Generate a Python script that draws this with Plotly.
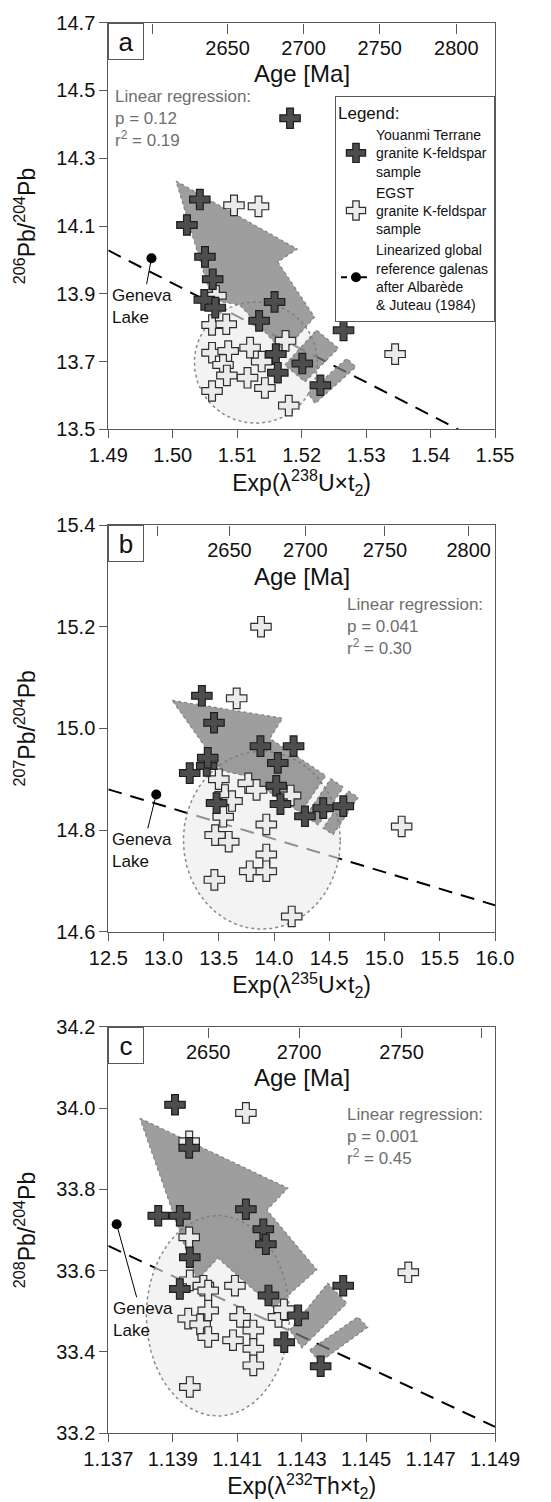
import numpy as np
import plotly.graph_objects as go

FONT = "Liberation Sans, Arial, sans-serif"
W, H = 551, 1502

# ---------------- data ----------------
# Panel a : 206Pb/204Pb vs Exp(lambda238U x t2)
a_youanmi_x = [1.5182, 1.5042, 1.5022, 1.5050, 1.5062, 1.5049, 1.5066, 1.5158, 1.5134,
               1.5160, 1.5163, 1.5201, 1.5229, 1.5265]
a_youanmi_y = [14.418, 14.178, 14.103, 14.009, 13.943, 13.882, 13.859, 13.876, 13.820,
               13.722, 13.667, 13.694, 13.630, 13.792]
a_egst_x = [1.5095, 1.5133, 1.5067, 1.5061, 1.5083, 1.5061, 1.5086, 1.5120, 1.5175,
            1.5078, 1.5138, 1.5084, 1.5116, 1.5143, 1.5061, 1.5180, 1.5345]
a_egst_y = [14.161, 14.158, 13.894, 13.808, 13.810, 13.726, 13.731, 13.741, 13.761,
            13.690, 13.700, 13.659, 13.652, 13.622, 13.613, 13.570, 13.722]
a_galena_x = [1.49, 1.5443]
a_galena_y = [14.028, 13.50]
a_geneva = (1.4967, 14.005)
a_ellipse = dict(cx=1.5129, cy=13.697, rx=0.00955, ry=0.179)
a_arrow_x = [1.5005, 1.5193, 1.5163, 1.5220, 1.5172, 1.5104, 1.5061]
a_arrow_y = [14.233, 14.032, 13.994, 13.831, 13.728, 13.867, 13.881]
a_seg1_x = [1.5174, 1.5223, 1.5257, 1.5205]
a_seg1_y = [13.690, 13.793, 13.739, 13.640]
a_seg2_x = [1.5210, 1.5270, 1.5284, 1.5221]
a_seg2_y = [13.606, 13.709, 13.684, 13.576]
a_xticks = [1.49, 1.50, 1.51, 1.52, 1.53, 1.54, 1.55]
a_yticks = [13.5, 13.7, 13.9, 14.1, 14.3, 14.5, 14.7]
a_age_pos = [1.4968, 1.5085, 1.5203, 1.5321, 1.5440]
a_age_txt = ["", "2650", "2700", "2750", "2800"]

# Panel b : 207Pb/204Pb vs Exp(lambda235U x t2)
b_youanmi_x = [13.347, 13.457, 13.237, 13.391, 13.40, 13.48, 13.877, 14.177, 14.034,
               14.020, 14.058, 14.280, 14.445, 14.627]
b_youanmi_y = [15.064, 15.011, 14.912, 14.926, 14.942, 14.853, 14.965, 14.965, 14.932,
               14.887, 14.851, 14.827, 14.843, 14.847]
b_egst_x = [13.882, 13.662, 13.500, 13.556, 13.620, 13.767, 13.842, 14.150, 13.540,
            13.467, 13.590, 13.930, 13.930, 13.780, 13.930, 13.460, 14.160, 15.155]
b_egst_y = [15.200, 15.059, 14.900, 14.869, 14.857, 14.892, 14.879, 14.868, 14.826,
            14.790, 14.777, 14.811, 14.752, 14.719, 14.719, 14.702, 14.630, 14.807]
b_galena_x = [12.5, 16.0]
b_galena_y = [14.880, 14.652]
b_geneva = (12.934, 14.870)
b_ellipse = dict(cx=13.89, cy=14.78, rx=0.71, ry=0.175)
b_arrow_x = [13.079, 14.077, 13.962, 14.468, 14.240, 13.734, 13.528]
b_arrow_y = [15.055, 15.020, 14.980, 14.907, 14.834, 14.907, 14.917]
b_seg1_x = [14.514, 14.627, 14.399, 14.286]
b_seg1_y = [14.901, 14.884, 14.810, 14.827]
b_seg2_x = [14.672, 14.762, 14.534, 14.444]
b_seg2_y = [14.877, 14.864, 14.791, 14.804]
b_xticks = [12.5, 13.0, 13.5, 14.0, 14.5, 15.0, 15.5, 16.0]
b_yticks = [14.6, 14.8, 15.0, 15.2, 15.4]
b_age_pos = [12.943, 13.597, 14.283, 15.004, 15.762]
b_age_txt = ["", "2650", "2700", "2750", "2800"]

# Panel c : 208Pb/204Pb vs Exp(lambda232Th x t2)
c_youanmi_x = [1.13907, 1.13951, 1.13855, 1.13922, 1.13953, 1.13922, 1.14127, 1.14181,
               1.14189, 1.14197, 1.14289, 1.14246, 1.14429, 1.14359]
c_youanmi_y = [34.008, 33.902, 33.735, 33.735, 33.633, 33.555, 33.751, 33.702,
               33.665, 33.539, 33.490, 33.424, 33.563, 33.365]
c_egst_x = [1.14127, 1.13951, 1.13951, 1.14631, 1.14093, 1.13953, 1.13995, 1.14010,
            1.13948, 1.14010, 1.13985, 1.14109, 1.14010, 1.14087, 1.14150, 1.14150,
            1.14150, 1.14228, 1.13953, 1.14245]
c_egst_y = [33.988, 33.918, 33.682, 33.596, 33.563, 33.576, 33.563, 33.551,
            33.482, 33.502, 33.468, 33.486, 33.437, 33.429, 33.453, 33.408,
            33.367, 33.486, 33.314, 33.505]
c_galena_x = [1.137, 1.149]
c_galena_y = [33.661, 33.216]
c_geneva = (1.13726, 33.714)
c_ellipse = dict(cx=1.1404, cy=33.489, rx=0.00222, ry=0.2465)
c_arrow_x = [1.13798, 1.14257, 1.14192, 1.14347, 1.14214, 1.14040, 1.13975]
c_arrow_y = [33.975, 33.803, 33.749, 33.602, 33.508, 33.631, 33.575]
c_seg1_x = [1.14263, 1.14381, 1.14440, 1.14301]
c_seg1_y = [33.454, 33.569, 33.520, 33.410]
c_seg2_x = [1.14325, 1.14474, 1.14505, 1.14356]
c_seg2_y = [33.405, 33.486, 33.461, 33.375]
c_xticks = [1.137, 1.139, 1.141, 1.143, 1.145, 1.147, 1.149]
c_yticks = [33.2, 33.4, 33.6, 33.8, 34.0, 34.2]
c_age_pos = [1.13728, 1.14010, 1.14292, 1.14610, 1.14858]
c_age_txt = ["", "2650", "2700", "2750", ""]

regression_text = ["Linear regression:<br>p = 0.12<br>r<sup>2</sup> = 0.19",
                   "Linear regression:<br>p = 0.041<br>r<sup>2</sup> = 0.30",
                   "Linear regression:<br>p = 0.001<br>r<sup>2</sup> = 0.45"]
panel_letters = ["a", "b", "c"]
x_titles = ["Exp(λ<sup>238</sup>U×t<sub>2</sub>)", "Exp(λ<sup>235</sup>U×t<sub>2</sub>)",
            "Exp(λ<sup>232</sup>Th×t<sub>2</sub>)"]
y_titles = ["<sup>206</sup>Pb/<sup>204</sup>Pb", "<sup>207</sup>Pb/<sup>204</sup>Pb",
            "<sup>208</sup>Pb/<sup>204</sup>Pb"]
legend_names = ["Youanmi Terrane<br>granite K-feldspar<br>sample",
                "EGST<br>granite K-feldspar<br>sample",
                "Linearized global<br>reference galenas<br>after Albarède<br>& Juteau (1984)"]

# ---------------- layout geometry (pixels) ----------------
X0, X1 = 108.3, 495.0
panel_px = [(22.7, 429.3), (525.0, 931.7), (1026.7, 1433.3)]
reg_pos = [(113, 118.5), (345, 626.7), (345, 1136.5)]
geneva_off = [(-9, 48), (-14, 56), (26, 95)]

AXC = "#595959"
DARK_FILL, DARK_LINE = "#4d4d4d", "#1e1e1e"
LIGHT_FILL, LIGHT_LINE = "#ebebeb", "#2e2e2e"
ARROW_FILL = "rgba(120,120,120,0.72)"
ARROW_LINE = "#808080"
ELL_FILL = "rgba(236,236,236,0.62)"

panels = [
    dict(yx=a_youanmi_x, yy=a_youanmi_y, ex=a_egst_x, ey=a_egst_y, gx=a_galena_x, gy=a_galena_y,
         gen=a_geneva, ell=a_ellipse, arrows=[(a_arrow_x, a_arrow_y), (a_seg1_x, a_seg1_y), (a_seg2_x, a_seg2_y)],
         xt=a_xticks, yt=a_yticks, ap=a_age_pos, at=a_age_txt, xf="{:.2f}", yf="{:.1f}"),
    dict(yx=b_youanmi_x, yy=b_youanmi_y, ex=b_egst_x, ey=b_egst_y, gx=b_galena_x, gy=b_galena_y,
         gen=b_geneva, ell=b_ellipse, arrows=[(b_arrow_x, b_arrow_y), (b_seg1_x, b_seg1_y), (b_seg2_x, b_seg2_y)],
         xt=b_xticks, yt=b_yticks, ap=b_age_pos, at=b_age_txt, xf="{:.1f}", yf="{:.1f}"),
    dict(yx=c_youanmi_x, yy=c_youanmi_y, ex=c_egst_x, ey=c_egst_y, gx=c_galena_x, gy=c_galena_y,
         gen=c_geneva, ell=c_ellipse, arrows=[(c_arrow_x, c_arrow_y), (c_seg1_x, c_seg1_y), (c_seg2_x, c_seg2_y)],
         xt=c_xticks, yt=c_yticks, ap=c_age_pos, at=c_age_txt, xf="{:.3f}", yf="{:.1f}"),
]

fig = go.Figure()
layout = dict(width=W, height=H, margin=dict(l=0, r=0, t=0, b=0), template="none",
              paper_bgcolor="white", plot_bgcolor="white",
              font=dict(family=FONT, color="#111111"), showlegend=True)
annotations = []

theta = np.linspace(0, 2 * np.pi, 241)

for i, p in enumerate(panels):
    n = i + 1
    xa = "x" if n == 1 else f"x{n}"
    ya = "y" if n == 1 else f"y{n}"
    agea = f"x{n + 3}"
    first = (i == 0)

    # invisible carrier so that the age axis (top) gets drawn
    fig.add_trace(go.Scatter(x=p["ap"], y=[p["yt"][0]] * len(p["ap"]), mode="markers",
                             xaxis=agea, yaxis=ya, marker=dict(opacity=0, size=1),
                             showlegend=False, hoverinfo="skip"))
    # galena reference line (bottom)
    fig.add_trace(go.Scatter(x=p["gx"], y=p["gy"], mode="lines", xaxis=xa, yaxis=ya,
                             line=dict(color="black", width=2, dash="14px,9px"),
                             showlegend=False, hoverinfo="skip"))
    # ellipse field
    e = p["ell"]
    fig.add_trace(go.Scatter(x=e["cx"] + e["rx"] * np.cos(theta), y=e["cy"] + e["ry"] * np.sin(theta),
                             mode="lines", fill="toself", fillcolor=ELL_FILL, xaxis=xa, yaxis=ya,
                             line=dict(color="#8a8a8a", width=1.5, dash="3px,3px"),
                             showlegend=False, hoverinfo="skip"))
    # arrow pieces
    for ax_, ay_ in p["arrows"]:
        fig.add_trace(go.Scatter(x=list(ax_) + [ax_[0]], y=list(ay_) + [ay_[0]], mode="lines",
                                 fill="toself", fillcolor=ARROW_FILL, xaxis=xa, yaxis=ya,
                                 line=dict(color=ARROW_LINE, width=1.2, dash="dot"),
                                 showlegend=False, hoverinfo="skip"))
    # EGST samples
    fig.add_trace(go.Scatter(x=p["ex"], y=p["ey"], mode="markers", xaxis=xa, yaxis=ya,
                             name=legend_names[1], legendrank=2, showlegend=first,
                             marker=dict(symbol="cross", size=17, color=LIGHT_FILL,
                                         line=dict(color=LIGHT_LINE, width=1.2))))
    # Youanmi samples
    fig.add_trace(go.Scatter(x=p["yx"], y=p["yy"], mode="markers", xaxis=xa, yaxis=ya,
                             name=legend_names[0], legendrank=1, showlegend=first,
                             marker=dict(symbol="cross", size=17, color=DARK_FILL,
                                         line=dict(color=DARK_LINE, width=1.2))))
    # Geneva Lake
    fig.add_trace(go.Scatter(x=[p["gen"][0]], y=[p["gen"][1]], mode="markers", xaxis=xa, yaxis=ya,
                             marker=dict(symbol="circle", size=10, color="black"),
                             showlegend=False, hoverinfo="skip"))
    if first:
        fig.add_trace(go.Scatter(x=[None], y=[None], mode="lines+markers", xaxis=xa, yaxis=ya,
                                 name=legend_names[2], legendrank=3,
                                 line=dict(color="black", width=2, dash="6px,4px"),
                                 marker=dict(symbol="circle", size=10, color="black")))

    top, bot = panel_px[i]
    ydom = [1 - bot / H, 1 - top / H]
    xdom = [X0 / W, X1 / W]
    common = dict(showline=True, mirror=True, linecolor=AXC, linewidth=1, ticks="outside",
                  ticklen=8, tickwidth=1, tickcolor=AXC, showgrid=False, zeroline=False,
                  automargin=False, tickfont=dict(size=20, family=FONT, color="#111111"))
    layout["xaxis" + ("" if n == 1 else str(n))] = dict(
        common, domain=xdom, anchor=ya, range=[p["xt"][0], p["xt"][-1]],
        tickvals=p["xt"], ticktext=[p["xf"].format(v) for v in p["xt"]],
        title=dict(text=x_titles[i], font=dict(size=23, family=FONT), standoff=8))
    layout["yaxis" + ("" if n == 1 else str(n))] = dict(
        common, domain=ydom, anchor=xa, range=[p["yt"][0], p["yt"][-1]],
        tickvals=p["yt"], ticktext=[p["yf"].format(v) for v in p["yt"]],
        title=dict(text=y_titles[i], font=dict(size=23, family=FONT), standoff=14))
    # age axis: drawn along the top frame, ticks and labels pointing down into the plot
    layout[f"xaxis{n + 3}"] = dict(
        overlaying=xa, anchor="free", position=ydom[1], side="bottom", domain=xdom,
        range=[p["xt"][0], p["xt"][-1]],
        tickmode="array", tickvals=p["ap"], ticktext=p["at"], ticks="outside", ticklen=10,
        tickwidth=1, tickcolor=AXC, ticklabelstandoff=-3,
        showline=False, showgrid=False, zeroline=False, automargin=False,
        tickfont=dict(size=20, family=FONT, color="#111111"))

    # annotations
    annotations.append(dict(text=panel_letters[i], xref=f"{xa} domain", yref=f"{ya} domain",
                            x=0, y=1, xanchor="left", yanchor="top", showarrow=False,
                            width=32, height=33, bordercolor=AXC, borderwidth=1, bgcolor="white",
                            font=dict(size=26, family=FONT, color="#111111")))
    annotations.append(dict(text="Age [Ma]", xref=f"{xa} domain", yref=f"{ya} domain",
                            x=0.5, y=1 - 51 / 406.6, xanchor="center", yanchor="middle",
                            showarrow=False, font=dict(size=24, family=FONT, color="#111111")))
    rx_, ry_ = reg_pos[i]
    annotations.append(dict(text=regression_text[i], xref="paper", yref="paper",
                            x=rx_ / W, y=1 - ry_ / H, xanchor="left", yanchor="middle",
                            align="left", showarrow=False,
                            font=dict(size=17, family=FONT, color="#6e6e6e")))
    gx_, gy_ = p["gen"]
    annotations.append(dict(text="Geneva<br>Lake", x=gx_, y=gy_, xref=xa, yref=ya,
                            ax=geneva_off[i][0], ay=geneva_off[i][1], showarrow=True,
                            arrowhead=0, arrowwidth=1, arrowcolor="black", standoff=0,
                            align="left", font=dict(size=17, family=FONT, color="#111111")))

layout["annotations"] = annotations
layout["legend"] = dict(x=X1 / W, xanchor="right", y=1 - 96 / H, yanchor="top",
                        bordercolor=AXC, borderwidth=1, bgcolor="white",
                        font=dict(size=14, family=FONT, color="#111111"),
                        title=dict(text="Legend:", font=dict(size=17, family=FONT)),
                        tracegroupgap=0, itemwidth=30)
fig.update_layout(**layout)
fig.write_html("out.html")
